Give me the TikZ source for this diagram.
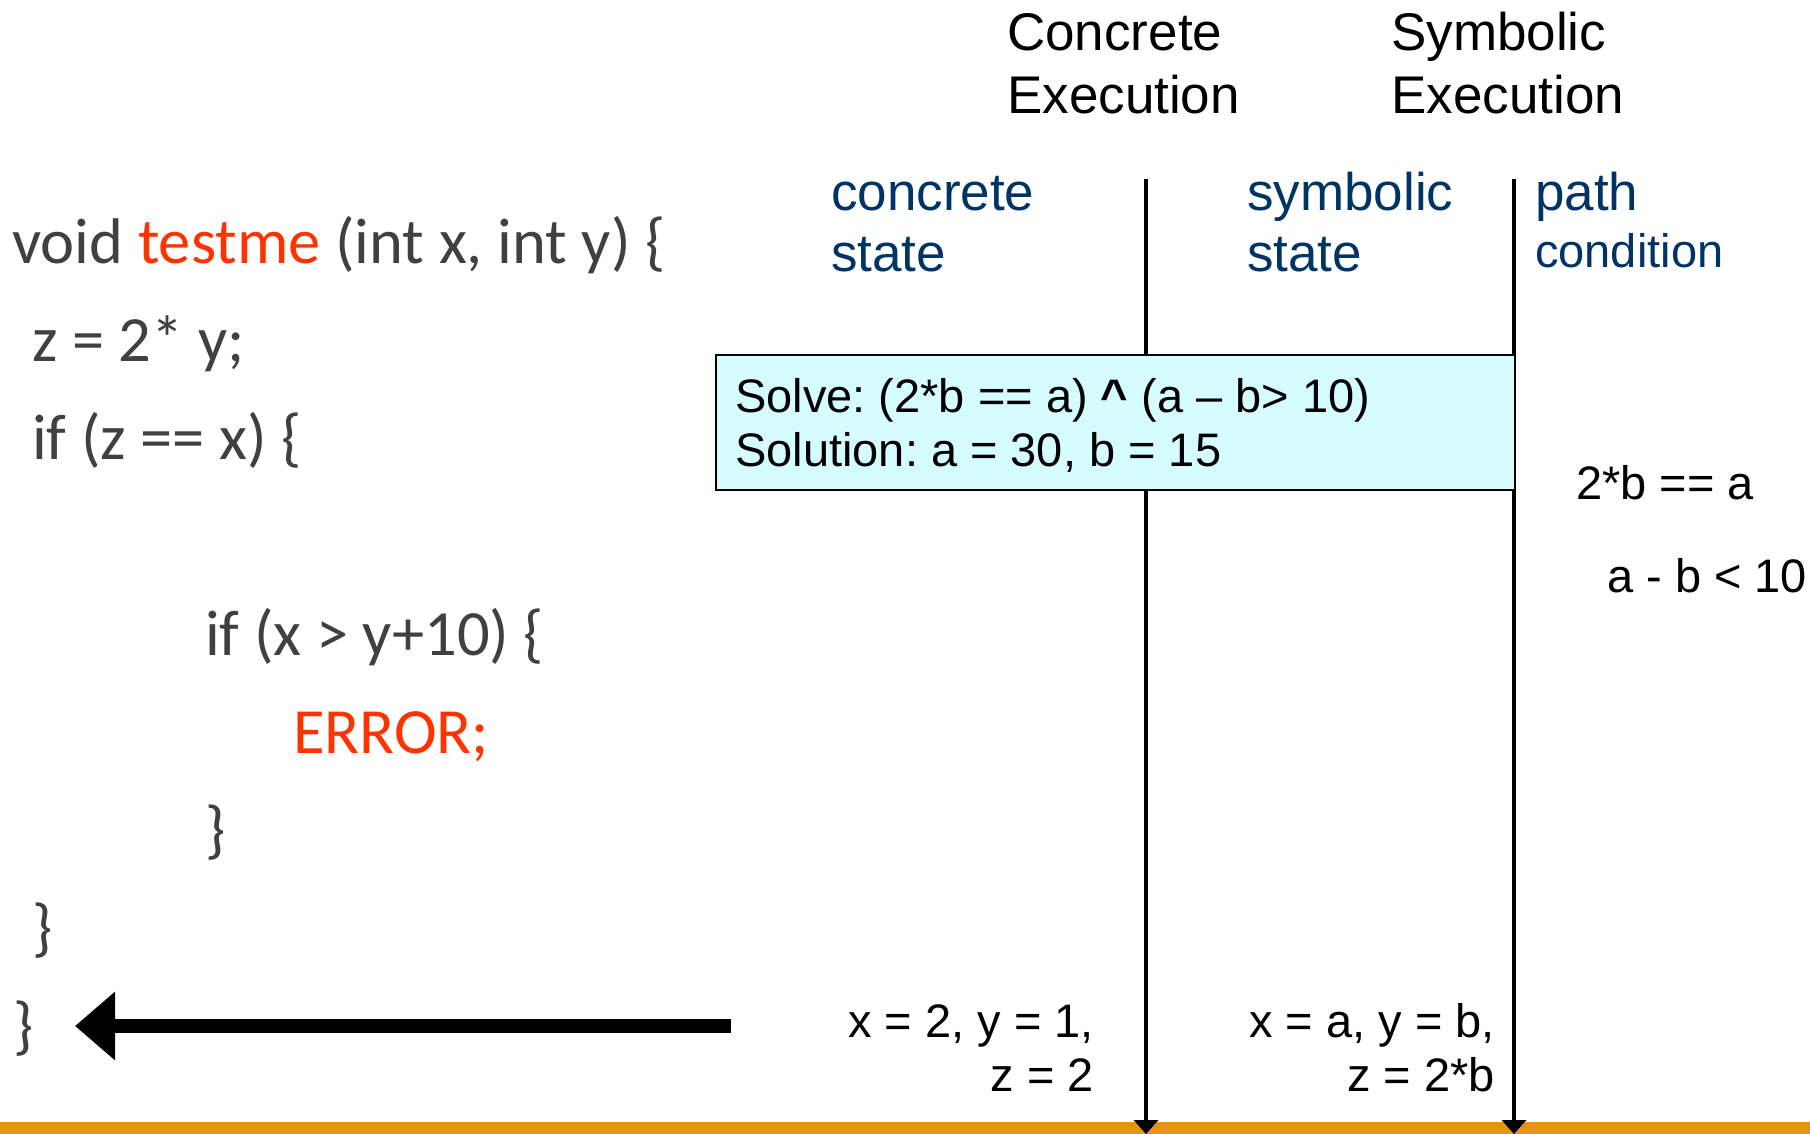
\documentclass[tikz,border=0pt]{standalone}
\usepackage{fontspec}
\setmainfont{Liberation Sans}
\newfontfamily\codefont{Carlito}
\usetikzlibrary{arrows.meta}
\frenchspacing
\definecolor{codegray}{RGB}{64,64,64}
\definecolor{codered}{RGB}{255,51,0}
\definecolor{hdrblue}{RGB}{0,51,102}
\definecolor{boxcyan}{RGB}{213,252,255}
\definecolor{barorange}{RGB}{234,146,18}
\begin{document}
\begin{tikzpicture}[x=1pt,y=-1pt,
  code/.style={anchor=base west,inner sep=0pt,text=codegray,font=\codefont\fontsize{64.5}{75}\selectfont},
  hdr/.style={anchor=base west,inner sep=0pt,align=left,font=\fontsize{53}{63}\selectfont},
  col/.style={anchor=base west,inner sep=0pt,align=left,text=hdrblue,font=\fontsize{53}{62}\selectfont},
  pathcol/.style={anchor=base west,inner sep=0pt,align=left,text=hdrblue,font=\fontsize{47}{58}\selectfont},
  lbl/.style={inner sep=0pt,font=\fontsize{47}{54}\selectfont},
  timeline/.style={line width=3.5pt,-{Triangle[length=14pt,width=24pt]}}
]
\useasboundingbox (0,0) rectangle (1810,1134);
\fill[white] (0,0) rectangle (1810,1134);

% orange bar
\fill[barorange] (0,1122) rectangle (1810,1134);

% headers (base anchor = last line)
\node[hdr] (conchdr) at (1007,114) {Concrete\\Execution};
\node[hdr] (symhdr) at (1391,114) {Symbolic\\Execution};
\node[col] (concstate) at (831,272) {concrete\\state};
\node[col] (symstate) at (1247,272) {symbolic\\state};
\node[pathcol] (pathcond) at (1535,268) {{\fontsize{53}{58}\selectfont path}\\condition};

% timelines
\coordinate (ctop) at (1146,179);
\coordinate (cbot) at (1146,1134);
\coordinate (stop) at (1514,179);
\coordinate (sbot) at (1514,1134);
\draw[timeline] (ctop) -- (cbot);
\draw[timeline] (stop) -- (sbot);

% solve box
\node[draw,line width=2pt,fill=boxcyan,anchor=north west,inner sep=0pt,
      minimum width=799.5pt,minimum height=135pt] (solvebox) at (714.5,354) {};
\node[lbl,anchor=base west,align=left] (solvetxt) at (735,466)
  {Solve: (2*b == a) \textbf{\symbol{94}} (a – b> 10)\\Solution: a = 30, b = 15};

% path conditions
\node[lbl,anchor=base west] (pc1) at (1576,499) {2*b == a};
\node[lbl,anchor=base west] (pc2) at (1607,592) {a - b < 10};

% states
\node[lbl,anchor=base east,align=right] (cstate) at (1094,1091) {x = 2, y = 1,\\z = 2};
\node[lbl,anchor=base east,align=right] (sstate) at (1495,1091) {x = a, y = b,\\z = 2*b};

% code
\node[code] (l1) at (12,263) {void \textcolor{codered}{testme} (int x, int y) \{};
\node[code] (l2) at (32,361) {z = 2* y;};
\node[code] (l3) at (32,459) {if (z == x) \{};
\node[code] (l4) at (205,655) {if (x > y+10) \{};
\node[code,text=codered] (l5) at (293,753) {ERROR;};
\node[code] (l6) at (205,851) {\}};
\node[code] (l7) at (32,949) {\}};
\node[code] (l8) at (13,1047) {\}};

% big arrow
\coordinate (arrowtail) at (731,1026);
\coordinate (arrowtip) at (75,1026);
\draw[line width=13.5pt,-{Triangle[length=40pt,width=66pt]}] (arrowtail) -- (arrowtip);
\end{tikzpicture}
\end{document}
